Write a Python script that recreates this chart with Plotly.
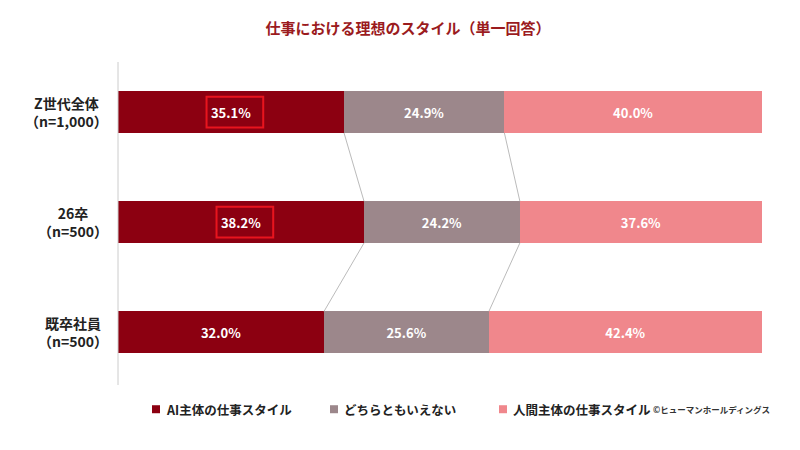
import plotly.graph_objects as go

groups = ["Z世代全体<br>（n=1,000）", "26卒<br>（n=500）", "既卒社員<br>（n=500）"]
series = ["AI主体の仕事スタイル", "どちらともいえない", "人間主体の仕事スタイル"]
values = [[35.1, 38.2, 32.0], [24.9, 24.2, 25.6], [40.0, 37.6, 42.4]]
colors = ["#8C0011", "#9C878B", "#F0878C"]
highlight = [True, True, False]

L, R, T, B = 110, 46, 54, 73
PW = 800 - L - R
ypos = [0, 1, 2]
fig = go.Figure()
for s, v, c in zip(series, values, colors):
    fig.add_trace(go.Bar(y=ypos, x=v, name=s, orientation="h", marker=dict(color=c, line=dict(width=0)),
                         width=0.38, text=[f"<b>{x:.1f}%</b>" for x in v], textposition="inside",
                         insidetextanchor="middle", textfont=dict(color="white", size=13, family="Noto Sans CJK JP"),
                         showlegend=False))

shapes = []
for i in range(2):
    for k in range(2):
        a = sum(values[j][i] for j in range(k + 1))
        b = sum(values[j][i + 1] for j in range(k + 1))
        shapes.append(dict(type="line", xref="x", yref="y", x0=a, y0=i + 0.19, x1=b, y1=i + 1 - 0.19,
                           line=dict(color="#BBBBBB", width=1)))
for i, h in enumerate(highlight):
    if h:
        cx = values[0][i] / 2 + 0.6
        shapes.append(dict(type="rect", xref="x", yref="y", x0=cx - 4.4, x1=cx + 4.4, y0=i - 0.14, y1=i + 0.14,
                           line=dict(color="#E8141E", width=2)))
shapes.append(dict(type="line", xref="paper", yref="paper", x0=0, x1=0, y0=0, y1=1, line=dict(color="#CCCCCC", width=1)))

anns = [dict(xref="paper", yref="y", x=-0.012, y=i, xanchor="right", text="<b>" + g + "</b>", showarrow=False, align="center",
             font=dict(size=14, color="#222", family="Noto Sans CJK JP")) for i, g in enumerate(groups)]
ly = -0.075
for s, c, px in zip(series, colors, [152, 330, 499]):
    x0 = (px - 8 - L) / PW
    shapes.append(dict(type="rect", xref="paper", yref="paper", x0=x0, x1=x0 + 8 / PW, y0=ly - 4 / 323, y1=ly + 4 / 323,
                       fillcolor=c, line=dict(width=0)))
    anns.append(dict(xref="paper", yref="paper", x=x0 + 12 / PW, y=ly, xanchor="left", yanchor="middle",
                     text="<b>" + s + "</b>", showarrow=False, font=dict(size=12.5, color="#222", family="Noto Sans CJK JP")))
anns.append(dict(xref="paper", yref="paper", x=1.015, y=ly, xanchor="right", yanchor="middle",
                 text="<b>©ヒューマンホールディングス</b>", showarrow=False, font=dict(size=8.5, color="#333", family="Noto Sans CJK JP")))

fig.update_layout(
    width=800, height=450, barmode="stack", plot_bgcolor="white", paper_bgcolor="white",
    margin=dict(l=L, r=R, t=T, b=B, autoexpand=False),
    title=dict(text="<b>仕事における理想のスタイル（単一回答）</b>", x=0.5, xanchor="center", y=0.965,
               font=dict(size=15, color="#9B1B1E", family="Noto Sans CJK JP")),
    xaxis=dict(range=[0, 100], visible=False),
    yaxis=dict(range=[2.48, -0.455], visible=False),
    shapes=shapes, annotations=anns, showlegend=False,
)
fig.write_html("out.html")
